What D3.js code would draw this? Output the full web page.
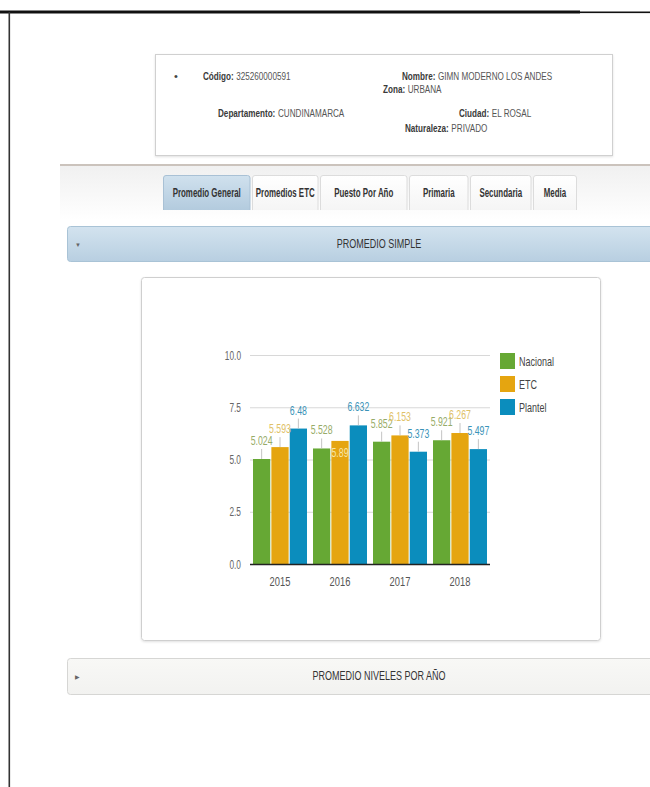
<!DOCTYPE html>
<html>
<head>
<meta charset="utf-8">
<script src="https://cdn.jsdelivr.net/npm/d3@7"></script>
<style>
  html, body { margin: 0; padding: 0; background: #fff; }
  svg { display: block; }
  text { font-family: "Liberation Sans", Arial, sans-serif; }
</style>
</head>
<body>
<div id="page"></div>
<script>
// ---------- data ----------
const years = ["2015", "2016", "2017", "2018"];
const seriesNames = ["Nacional", "ETC", "Plantel"];
const nacional = [5.024, 5.528, 5.852, 5.921];
const etc = [5.593, 5.89, 6.153, 6.267];
const plantel = [6.48, 6.632, 5.373, 5.497];
const yTicks = [0, 2.5, 5, 7.5, 10];
const tabs = ["Promedio General", "Promedios ETC", "Puesto Por Año", "Primaria", "Secundaria", "Media"];
const infoFields = [
  ["Código:", "325260000591"],
  ["Nombre:", "GIMN MODERNO LOS ANDES"],
  ["Zona:", "URBANA"],
  ["Departamento:", "CUNDINAMARCA"],
  ["Ciudad:", "EL ROSAL"],
  ["Naturaleza:", "PRIVADO"]
];
const panelTitles = ["PROMEDIO SIMPLE", "PROMEDIO NIVELES POR AÑO"];
// labels the original drew inside their bar (year, series)
const insideLabels = [["2016", "ETC"]];

// ---------- styles ----------
const colors = { "Nacional": "#66a834", "ETC": "#e5a510", "Plantel": "#0b8dbd" };
const labelColors = { "Nacional": "#97ab68", "ETC": "#e0c166", "Plantel": "#3a93b8" };

const W = 650, H = 787;
const svg = d3.select("#page").append("svg").attr("width", W).attr("height", H);
const defs = svg.append("defs");

// horizontally condense a text node around its anchor x (the original uses a narrow face)
function squish(node, k) {
  const len = node.getComputedTextLength();
  const ax = +node.getAttribute("x") || 0;
  node.setAttribute("transform", `translate(${(ax * (1 - k)).toFixed(2)},0) scale(${k},1)`);
  return len * k;
}

function grad(id, c1, c2) {
  const g = defs.append("linearGradient").attr("id", id).attr("x1", 0).attr("y1", 0).attr("x2", 0).attr("y2", 1);
  g.append("stop").attr("offset", "0%").attr("stop-color", c1);
  g.append("stop").attr("offset", "100%").attr("stop-color", c2);
}
grad("gBlue", "#d3e3ef", "#b8cfe1");
grad("gTabActive", "#d0e1ee", "#b3cbde");
grad("gTab", "#ffffff", "#f5f5f5");
grad("gBar", "#f0f0f0", "#ffffff");
grad("gGray", "#f8f8f6", "#f2f2f0");

const f = defs.append("filter").attr("id", "shadow").attr("x", "-5%").attr("y", "-5%").attr("width", "110%").attr("height", "110%");
f.append("feDropShadow").attr("dx", 0).attr("dy", 1).attr("stdDeviation", 1).attr("flood-color", "#000").attr("flood-opacity", 0.12);

// ---------- page frame ----------
svg.append("rect").attr("x", 0).attr("y", 10.5).attr("width", 580).attr("height", 3).attr("fill", "#111");
svg.append("rect").attr("x", 580).attr("y", 11.5).attr("width", 70).attr("height", 1.6).attr("fill", "#111");
svg.append("rect").attr("x", 8.5).attr("y", 12).attr("width", 1.6).attr("height", H - 12).attr("fill", "#333");

// ---------- info box ----------
svg.append("rect").attr("x", 155.5).attr("y", 54.5).attr("width", 457).attr("height", 101)
  .attr("fill", "#fff").attr("stroke", "#d0d0d0").attr("filter", "url(#shadow)");
svg.append("text").attr("x", 174).attr("y", 80).attr("font-size", 11).attr("fill", "#444").text("•");
const infoPos = [[203, 80], [402, 80], [383, 93], [218, 117], [459, 117], [405, 132]];
infoFields.forEach((fld, i) => {
  const lab = svg.append("text").attr("x", infoPos[i][0]).attr("y", infoPos[i][1])
    .attr("font-size", 11).attr("font-weight", "bold").attr("fill", "#3a3a3a").text(fld[0]);
  const w = squish(lab.node(), 0.74);
  const val = svg.append("text").attr("x", infoPos[i][0] + w + 2.5).attr("y", infoPos[i][1])
    .attr("font-size", 11).attr("fill", "#555").text(fld[1]);
  squish(val.node(), 0.74);
});

// ---------- tab bar ----------
svg.append("rect").attr("x", 60).attr("y", 165).attr("width", 590).attr("height", 55).attr("fill", "url(#gBar)");
svg.append("rect").attr("x", 60).attr("y", 164).attr("width", 590).attr("height", 2).attr("fill", "#cbc3bc");
const tabX = [163, 252, 320, 409, 470, 533, 577];
tabs.forEach((t, i) => {
  const x0 = tabX[i], x1 = tabX[i + 1] - (i < tabs.length - 1 ? 1.5 : 0);
  const w = x1 - x0;
  svg.append("path")
    .attr("d", `M${x0 + 0.5},210 V178 Q${x0 + 0.5},175.5 ${x0 + 3},175.5 H${x1 - 3} Q${x1 - 0.5},175.5 ${x1 - 0.5},178 V210`)
    .attr("fill", i === 0 ? "url(#gTabActive)" : "url(#gTab)")
    .attr("stroke", i === 0 ? "#a9c1d5" : "#dcdcdc");
  const tx = svg.append("text").attr("x", x0 + w / 2).attr("y", 197).attr("text-anchor", "middle")
    .attr("font-size", 12).attr("font-weight", "bold").attr("fill", "#333").text(t);
  squish(tx.node(), 0.66);
});

// ---------- accordion headers ----------
function header(y, h, fill, stroke, title, arrow) {
  svg.append("rect").attr("x", 67.5).attr("y", y + 0.5).attr("width", 590).attr("height", h).attr("rx", 3)
    .attr("fill", fill).attr("stroke", stroke);
  svg.append("text").attr("x", 75).attr("y", y + h / 2 + 3).attr("font-size", 6).attr("fill", "#666").text(arrow);
  const tx = svg.append("text").attr("x", 379).attr("y", y + h / 2 + 4.5).attr("text-anchor", "middle")
    .attr("font-size", 12.5).attr("fill", "#333").text(title);
  squish(tx.node(), 0.72);
}
header(226, 35, "url(#gBlue)", "#a9c3d6", panelTitles[0], "▼");
header(658, 36, "url(#gGray)", "#d6d6d4", panelTitles[1], "▶");

// ---------- chart panel ----------
svg.append("rect").attr("x", 141.5).attr("y", 277.5).attr("width", 459).attr("height", 363).attr("rx", 3)
  .attr("fill", "#fff").attr("stroke", "#cfcfcf").attr("filter", "url(#shadow)");

// ---------- chart ----------
const data = years.map((yr, i) => ({
  year: yr,
  values: [
    { key: "Nacional", value: nacional[i] },
    { key: "ETC", value: etc[i] },
    { key: "Plantel", value: plantel[i] }
  ]
}));

const x0 = d3.scaleBand().domain(years).range([250, 490]).paddingInner(0.1).paddingOuter(0.05);
const x1 = d3.scaleBand().domain(seriesNames).range([0, x0.bandwidth()]).paddingInner(0.06);
const y = d3.scaleLinear().domain([0, 10]).range([564, 355]);

// gridlines + y labels
const gAxisY = svg.append("g").attr("transform", "translate(250,0)")
  .call(d3.axisLeft(y).tickValues(yTicks).tickSize(-240).tickFormat(d3.format(".1f")));
gAxisY.select(".domain").remove();
gAxisY.selectAll(".tick line").attr("stroke", "#d8d8d8");
gAxisY.selectAll(".tick text").attr("x", -9).attr("font-size", 13).attr("fill", "#666")
  .style("font-family", "'Liberation Sans', Arial, sans-serif")
  .each(function () { squish(this, 0.64); });

// bars
const groups = svg.append("g").selectAll("g").data(data).join("g")
  .attr("transform", d => `translate(${x0(d.year)},0)`);
groups.selectAll("rect").data(d => d.values).join("rect")
  .attr("x", d => x1(d.key))
  .attr("y", d => y(d.value))
  .attr("width", x1.bandwidth())
  .attr("height", d => y(0) - y(d.value))
  .attr("fill", d => colors[d.key]);

// baseline + x labels
const gAxisX = svg.append("g").attr("transform", `translate(0,${y(0)})`)
  .call(d3.axisBottom(x0).tickSize(0).tickPadding(13));
gAxisX.select(".domain").attr("stroke", "#222").attr("stroke-width", 1.5).attr("d", "M250,0.5H490");
gAxisX.selectAll(".tick text").attr("font-size", 13).attr("fill", "#555")
  .style("font-family", "'Liberation Sans', Arial, sans-serif")
  .each(function () { squish(this, 0.72); });

// value labels
const isInside = (yr, key) => insideLabels.some(p => p[0] === yr && p[1] === key);
groups.each(function (g) {
  const sel = d3.select(this);
  g.values.forEach(d => {
    const cx = x1(d.key) + x1.bandwidth() / 2;
    const top = y(d.value);
    let t;
    if (isInside(g.year, d.key)) {
      t = sel.append("text").attr("x", cx).attr("y", top + 16).attr("text-anchor", "middle")
        .attr("font-size", 12.5).attr("fill", "#f7e6a8").text(d3.format("")(d.value));
    } else {
      sel.append("line").attr("x1", cx).attr("x2", cx).attr("y1", top).attr("y2", top - 10)
        .attr("stroke", "#b5b5b5").attr("stroke-width", 0.8);
      t = sel.append("text").attr("x", cx).attr("y", top - 14).attr("text-anchor", "middle")
        .attr("font-size", 12.5).attr("fill", labelColors[d.key]).text(d3.format("")(d.value));
    }
    squish(t.node(), 0.7);
  });
});

// legend
const legend = svg.append("g").attr("transform", "translate(500,353)");
seriesNames.forEach((s, i) => {
  const row = legend.append("g").attr("transform", `translate(0,${i * 23})`);
  row.append("rect").attr("width", 15).attr("height", 16).attr("fill", colors[s]);
  const t = row.append("text").attr("x", 19).attr("y", 13).attr("font-size", 12.5).attr("fill", "#444").text(s);
  squish(t.node(), 0.72);
});
</script>
</body>
</html>
